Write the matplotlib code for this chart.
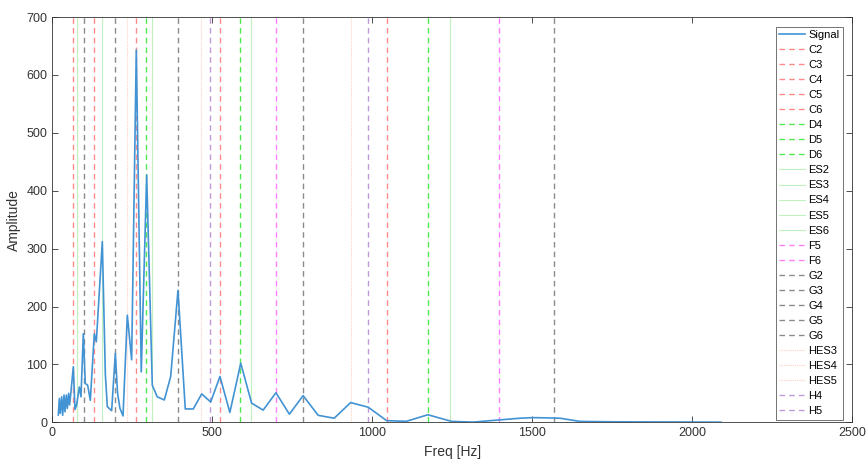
import matplotlib
matplotlib.use("Agg")
import matplotlib.pyplot as plt

plt.rcParams['font.family'] = ['Liberation Sans', 'DejaVu Sans']

# Signal spectrum
freq = [18.8, 22, 25, 29.3, 32.4, 36.6, 39.7, 43.8, 47, 51, 54, 58.4,
        65.7, 70.9, 76, 84.5, 89.6, 96.9, 103, 110.5, 118.8, 131.3, 137.6,
        156.3, 165.7, 172, 185.5, 197, 204, 211.5, 221, 234.5, 248, 262.5,
        278, 295, 312.5, 328, 350, 370, 392.8, 415.6, 440.6, 467, 495, 524,
        555, 589, 623, 659, 699, 741, 784, 831, 881, 932.5, 987.6, 1045,
        1107, 1174, 1248, 1316, 1396, 1462, 1503, 1552, 1587, 1649, 1750,
        1850, 1950, 2050, 2090]
amp = [12.6, 41, 15.5, 44, 12, 47, 18, 47, 24, 50, 30, 53,
       96, 22, 30, 61, 44, 153, 67, 64, 38, 153, 139,
       312, 84, 27, 20, 119, 50, 24, 11, 185, 108, 643,
       87, 427, 64, 44, 38.5, 79, 228, 23, 23, 49, 35, 79,
       17, 102, 33, 21, 51, 14, 46, 12, 7, 34, 26, 2.8,
       1.7, 13, 1.5, 0.3, 4, 7, 8, 7.5, 7, 1.5, 0.8,
       0.6, 0.5, 0.3, 0.2]

# Note reference lines
note_names = ["C2", "C3", "C4", "C5", "C6",
              "D4", "D5", "D6",
              "ES2", "ES3", "ES4", "ES5", "ES6",
              "F5", "F6",
              "G2", "G3", "G4", "G5", "G6",
              "HES3", "HES4", "HES5",
              "H4", "H5"]
note_freqs = [65.41, 130.81, 261.63, 523.25, 1046.50,
              293.66, 587.33, 1174.66,
              77.78, 155.56, 311.13, 622.25, 1244.51,
              698.46, 1396.91,
              98.00, 196.00, 392.00, 783.99, 1567.98,
              233.08, 466.16, 932.33,
              493.88, 987.77]

styles = {
    "C": dict(color="#ff8a8a", ls=(0, (4, 3)), lw=1.0),
    "D": dict(color="#4fe84f", ls=(0, (4, 3)), lw=1.0),
    "ES": dict(color="#bff2bf", ls="-", lw=0.8),
    "F": dict(color="#ff80ff", ls=(0, (4, 3)), lw=1.0),
    "G": dict(color="#8a8a8a", ls=(0, (4, 3)), lw=1.0),
    "HES": dict(color="#ffcfc4", ls=(0, (1, 1)), lw=0.8),
    "H": dict(color="#c09ad8", ls=(0, (4, 3)), lw=1.0),
}

fig = plt.figure(figsize=(8.66, 4.62), dpi=100)
ax = fig.add_axes([0.0604, 0.086, 0.9236, 0.877])

ax.plot(freq, amp, color="#4293d4", lw=1.2, label="Signal", zorder=5)
for name, f in zip(note_names, note_freqs):
    key = name.rstrip("0123456789")
    st = styles[key]
    ax.axvline(f, color=st["color"], linestyle=st["ls"], lw=st["lw"], label=name, zorder=2)

ax.set_xlim(0, 2500)
ax.set_ylim(0, 700)
ax.set_xticks(range(0, 2501, 500))
ax.set_yticks(range(0, 701, 100))
ax.tick_params(direction="in", length=4, width=0.6, colors="#333333", labelsize=9,
               top=True, right=True)
for s in ax.spines.values():
    s.set_color("#333333")
    s.set_linewidth(0.6)
ax.set_xlabel("Freq [Hz]", fontsize=10, color="#333333", labelpad=4)
ax.set_ylabel("Amplitude", fontsize=10, color="#333333", labelpad=4)

leg = ax.legend(loc="upper right", fontsize=8, frameon=True, fancybox=False,
                edgecolor="#333333", handlelength=2.3, handletextpad=0.3,
                labelspacing=0.455, borderpad=0.3, borderaxespad=0.85)
leg.get_frame().set_linewidth(0.6)

fig.savefig("out.png", dpi=100)
